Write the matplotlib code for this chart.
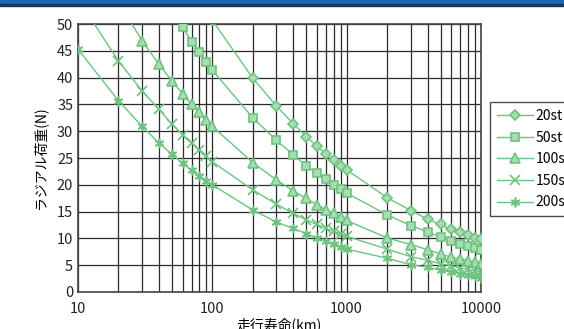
import matplotlib.pyplot as plt
import numpy as np
from matplotlib.patches import Rectangle

plt.rcParams['font.family'] = ['Noto Sans CJK JP', 'DejaVu Sans']

# running life (km)
x_left = [10, 20, 30, 40, 50, 60, 70, 80, 90]
x_mid = [100, 200, 300, 400, 500, 600, 700, 800, 900]
x_right = [1000, 2000, 3000, 4000, 5000, 6000, 7000, 8000, 9000, 10000]

x_20 = x_mid + x_right
y_20 = [50.7, 39.9, 34.7, 31.4, 29.0, 27.2, 25.8, 24.6, 23.6,
        22.8, 17.6, 15.2, 13.6, 12.6, 11.7, 11.15, 10.55, 10.1, 9.9]

x_50 = [50, 60, 70, 80, 90] + x_mid + x_right
y_50 = [52.5, 49.5, 46.7, 44.7, 42.9,
        41.4, 32.5, 28.3, 25.6, 23.55, 22.2, 21.05, 20.0, 19.2,
        18.45, 14.4, 12.4, 11.2, 10.25, 9.6, 9.0, 8.5, 8.15, 7.8]

x_100 = x_left[1:] + x_mid + x_right
y_100 = [54.0, 46.9, 42.5, 39.4, 37.0, 35.0, 33.5, 32.1,
         30.9, 24.15, 20.9, 18.9, 17.45, 16.3, 15.35, 14.65, 14.0,
         13.35, 10.1, 8.85, 7.9, 7.1, 6.5, 6.2, 5.85, 5.6, 5.3]

x_150 = x_left + x_mid + x_right
y_150 = [54.7, 43.1, 37.5, 34.1, 31.3, 29.3, 27.8, 26.5, 25.4,
         24.3, 19.05, 16.4, 14.65, 13.5, 12.6, 11.9, 11.3, 10.85,
         10.4, 8.0, 6.6, 5.9, 5.3, 4.9, 4.5, 4.2, 3.9, 3.7]

x_200 = x_left + x_mid + x_right
y_200 = [45.3, 35.7, 30.9, 27.8, 25.7, 24.0, 22.7, 21.7, 20.8,
         20.0, 15.3, 13.05, 11.85, 10.9, 10.05, 9.45, 8.9, 8.45,
         8.0, 6.3, 5.1, 4.6, 4.1, 3.7, 3.4, 3.1, 2.9, 2.7]

labels = ['20st', '50st', '100st', '150st', '200st']
xs = [x_20, x_50, x_100, x_150, x_200]
ys = [y_20, y_50, y_100, y_150, y_200]
markers = ['D', 's', '^', 'x', (6, 2, 0)]
msizes = [5.5, 6, 6.5, 7, 7]

line_c = '#6cc47f'
face_c = '#a9dcb3'

fig = plt.figure(figsize=(5.64, 3.29), dpi=100)
ax = fig.add_axes([0.1383, 0.1125, 0.7145, 0.8145])

# top band
fig.patches.append(Rectangle((0, 0.985), 1, 0.015, transform=fig.transFigure,
                             color='#1d68a6', zorder=5))
fig.patches.append(Rectangle((0, 0.982), 1, 0.005, transform=fig.transFigure,
                             color='#173a5c', zorder=5))

for x, y, lab, m, ms in zip(xs, ys, labels, markers, msizes):
    ax.plot(x, y, color=line_c, lw=1, marker=m, markersize=ms,
            markerfacecolor=face_c, markeredgecolor=line_c,
            markeredgewidth=1.2, label=lab, zorder=3)

ax.set_xscale('log')
ax.set_xlim(10, 10000)
ax.set_ylim(0, 50)
ax.set_yticks(np.arange(0, 51, 5))
ax.set_xticks([10, 100, 1000, 10000])
ax.set_xticklabels(['10', '100', '1000', '10000'])
ax.grid(True, which='both', axis='x', color='#2a2a2a', lw=0.9)
ax.grid(True, which='major', axis='y', color='#2a2a2a', lw=0.9)
ax.tick_params(which='both', length=0, labelsize=10.5, colors='#222222')
ax.tick_params(axis='x', pad=7)
for s in ax.spines.values():
    s.set_color('#444444')
    s.set_linewidth(1.2)

ax.set_xlabel('走行寿命(km)', fontsize=10, labelpad=1)
ax.set_ylabel('ラジアル荷重(N)', fontsize=10, labelpad=7)

leg = ax.legend(loc='upper left', bbox_to_anchor=(1.022, 0.709),
                borderaxespad=0, fontsize=10, frameon=True, fancybox=False,
                handlelength=2.6, handletextpad=0.2, labelspacing=0.55,
                borderpad=0.5)
leg.get_frame().set_edgecolor('#222222')
leg.get_frame().set_linewidth(1)

fig.savefig('out.png', dpi=100)
